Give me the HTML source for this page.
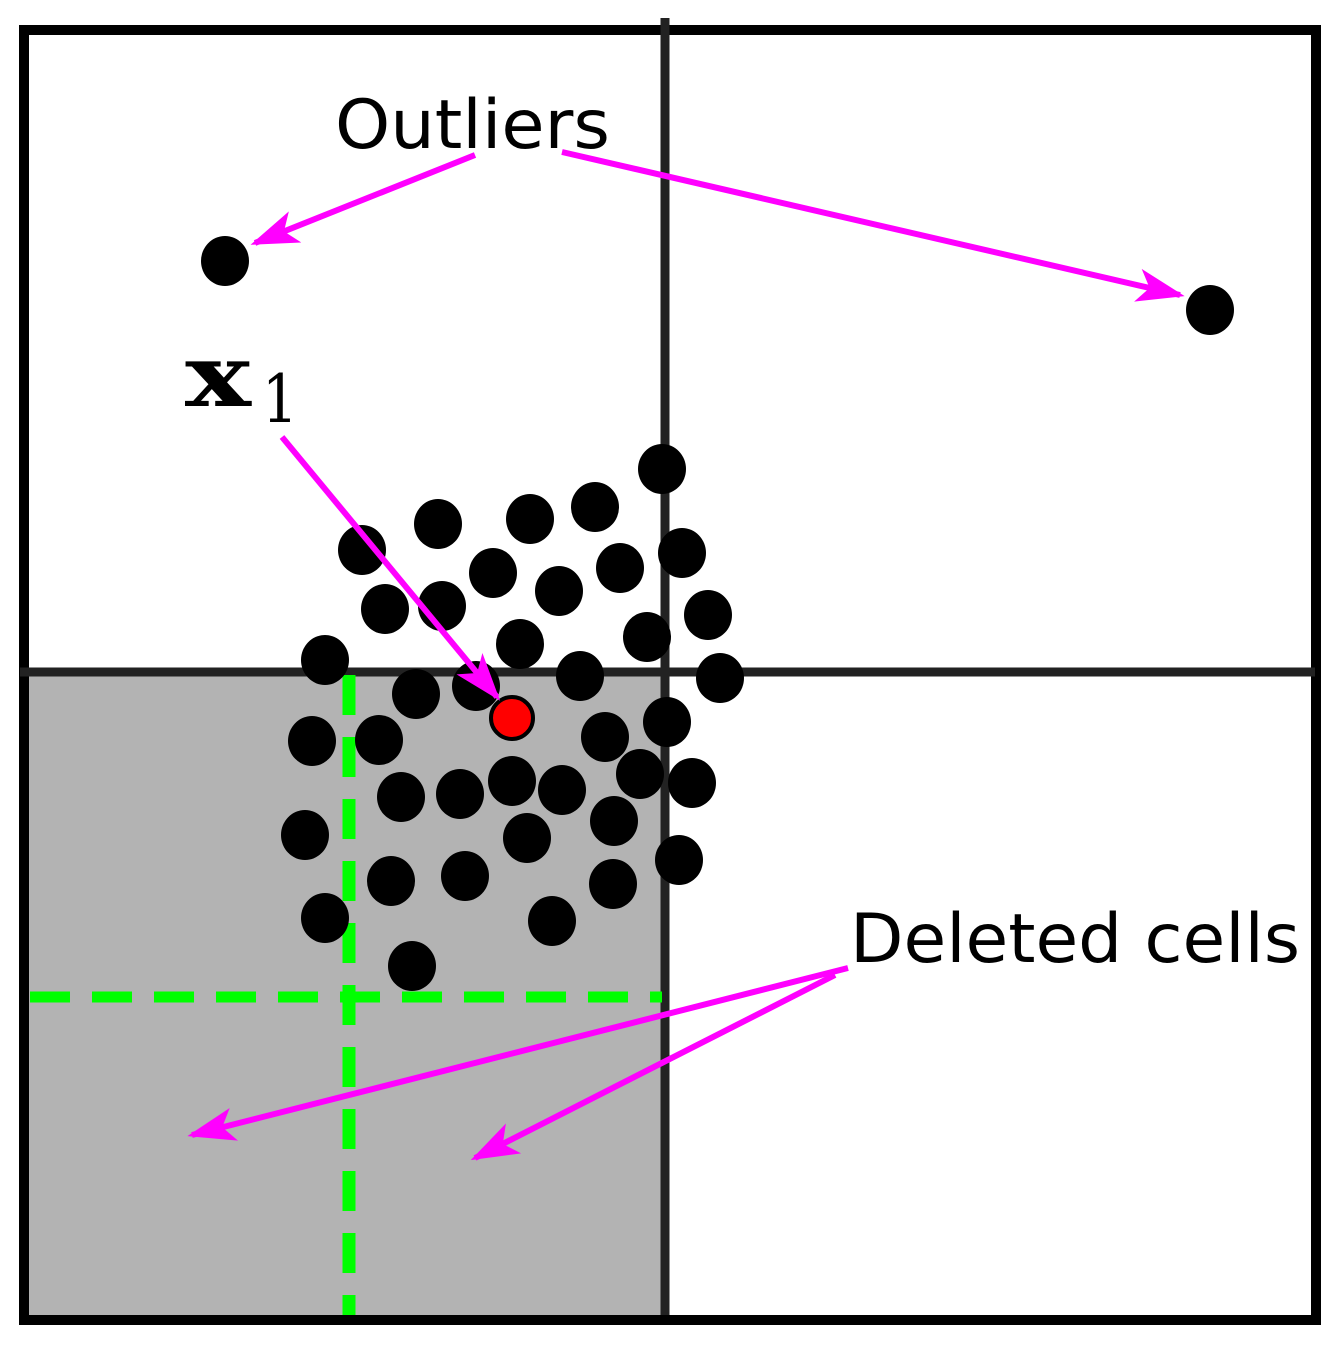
<!DOCTYPE html>
<html><head><style>html,body{margin:0;padding:0;background:#fff}svg{display:block}</style></head>
<body>
<svg width="1343" height="1346" viewBox="0 0 1343 1346" xmlns="http://www.w3.org/2000/svg">
<defs>
<marker id="ah" viewBox="0 0 20 14" refX="18" refY="7" markerWidth="8" markerHeight="6" orient="auto" markerUnits="strokeWidth">
<path d="M0,0 L20,7 L0,14 L5,7 Z" fill="#ff00ff"/>
</marker>
</defs>
<rect x="25" y="675" width="640" height="643" fill="#b3b3b3"/>
<rect x="24" y="30" width="1292" height="1290" fill="none" stroke="#000" stroke-width="10"/>
<line x1="665" y1="18" x2="665" y2="1315" stroke="#222" stroke-width="9"/>
<line x1="20" y1="672" x2="1315" y2="672" stroke="#222" stroke-width="9"/>
<line x1="349" y1="675" x2="349" y2="1315" stroke="#00ff00" stroke-width="13" stroke-dasharray="40,22"/>
<line x1="30" y1="997" x2="662" y2="997" stroke="#00ff00" stroke-width="11" stroke-dasharray="40,22"/>
<g fill="#000">
<ellipse cx="225" cy="261" rx="24" ry="25"/><ellipse cx="1210" cy="310" rx="24" ry="25"/>
<ellipse cx="662" cy="469" rx="24" ry="25"/><ellipse cx="438" cy="524" rx="24" ry="25"/>
<ellipse cx="530" cy="519" rx="24" ry="25"/><ellipse cx="595" cy="507" rx="24" ry="25"/>
<ellipse cx="362" cy="550" rx="24" ry="25"/><ellipse cx="682" cy="553" rx="24" ry="25"/>
<ellipse cx="493" cy="573" rx="24" ry="25"/><ellipse cx="620" cy="568" rx="24" ry="25"/>
<ellipse cx="559" cy="591" rx="24" ry="25"/><ellipse cx="385" cy="609" rx="24" ry="25"/>
<ellipse cx="442" cy="606" rx="24" ry="25"/><ellipse cx="708" cy="615" rx="24" ry="25"/>
<ellipse cx="647" cy="637" rx="24" ry="25"/><ellipse cx="520" cy="644" rx="24" ry="25"/>
<ellipse cx="325" cy="660" rx="24" ry="25"/><ellipse cx="580" cy="676" rx="24" ry="25"/>
<ellipse cx="720" cy="678" rx="24" ry="25"/><ellipse cx="416" cy="694" rx="24" ry="25"/>
<ellipse cx="476" cy="686" rx="24" ry="25"/><ellipse cx="312" cy="741" rx="24" ry="25"/>
<ellipse cx="379" cy="740" rx="24" ry="25"/><ellipse cx="605" cy="737" rx="24" ry="25"/>
<ellipse cx="667" cy="722" rx="24" ry="25"/><ellipse cx="512" cy="781" rx="24" ry="25"/>
<ellipse cx="460" cy="794" rx="24" ry="25"/><ellipse cx="401" cy="797" rx="24" ry="25"/>
<ellipse cx="562" cy="790" rx="24" ry="25"/><ellipse cx="640" cy="774" rx="24" ry="25"/>
<ellipse cx="692" cy="783" rx="24" ry="25"/><ellipse cx="305" cy="835" rx="24" ry="25"/>
<ellipse cx="527" cy="838" rx="24" ry="25"/><ellipse cx="614" cy="821" rx="24" ry="25"/>
<ellipse cx="391" cy="881" rx="24" ry="25"/><ellipse cx="465" cy="876" rx="24" ry="25"/>
<ellipse cx="613" cy="884" rx="24" ry="25"/><ellipse cx="679" cy="860" rx="24" ry="25"/>
<ellipse cx="325" cy="918" rx="24" ry="25"/><ellipse cx="552" cy="921" rx="24" ry="25"/>
<ellipse cx="412" cy="966" rx="24" ry="25"/>
</g>
<circle cx="512" cy="718" r="21" fill="#ff0000" stroke="#000" stroke-width="4"/>
<g stroke="#ff00ff" stroke-width="6" fill="none" marker-end="url(#ah)">
<line x1="475" y1="155" x2="255" y2="243"/>
<line x1="562" y1="152" x2="1180" y2="295"/>
<line x1="282" y1="437" x2="497" y2="697"/>
<line x1="848" y1="968" x2="192" y2="1135"/>
<line x1="835" y1="975" x2="475" y2="1158"/>
</g>
<text x="335" y="148" font-family="DejaVu Sans, sans-serif" font-size="68" textLength="275" lengthAdjust="spacingAndGlyphs">Outliers</text>
<text x="850" y="962" font-family="DejaVu Sans, sans-serif" font-size="68" textLength="450" lengthAdjust="spacingAndGlyphs">Deleted cells</text>
<text x="185" y="406" font-family="DejaVu Serif, serif" font-weight="bold" font-size="86" textLength="66" lengthAdjust="spacingAndGlyphs">x</text>
<text x="262" y="422" font-family="DejaVu Serif, serif" font-size="66" textLength="36" lengthAdjust="spacingAndGlyphs">1</text>
</svg>
</body></html>
